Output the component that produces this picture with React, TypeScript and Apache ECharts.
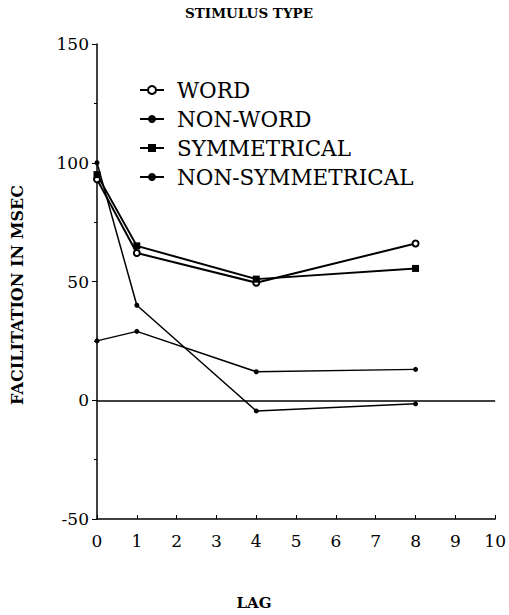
import React, { useEffect, useRef } from "react";
import * as echarts from "echarts";

const lags = [0, 1, 4, 8];
const wordValues = [93, 62, 49.5, 66];
const nonWordValues = [100, 40, -4.5, -1.5];
const symmetricalValues = [95, 65, 51, 55.5];
const nonSymmetricalValues = [25, 29, 12, 13];
const xTicks = [0, 1, 2, 3, 4, 5, 6, 7, 8, 9, 10];
const yTicks = [-50, 0, 50, 100, 150];

const FONT = "DejaVu Serif";

function pairs(vals: number[]) {
  return lags.map((x, i) => [x, vals[i]]);
}

export default function App() {
  const ref = useRef<HTMLDivElement>(null);
  useEffect(() => {
    if (!ref.current) return;
    const chart = echarts.init(ref.current, undefined, { renderer: "svg" });
    const base = {
      type: "line",
      color: "#000",
      showAllSymbol: true,
    };
    chart.setOption({
      animation: false,
      backgroundColor: "#fff",
      title: {
        text: "STIMULUS TYPE",
        left: 244,
        textAlign: "center",
        top: 1,
        textStyle: { fontFamily: FONT, fontWeight: "bold", fontSize: 13.5, color: "#000" },
      },
      legend: {
        orient: "vertical",
        left: 134,
        top: 74,
        itemWidth: 24,
        itemHeight: 10,
        itemGap: 7,
        textStyle: { fontFamily: FONT, fontSize: 21.5, color: "#000", padding: [0, 0, 0, 8] },
        data: ["WORD", "NON-WORD", "SYMMETRICAL", "NON-SYMMETRICAL"],
      },
      grid: { left: 97, right: 11, top: 44, bottom: 96, containLabel: false },
      graphic: [
        {
          type: "text",
          x: 17,
          y: 295,
          rotation: Math.PI / 2,
          style: {
            text: "FACILITATION IN MSEC",
            fontFamily: FONT,
            fontWeight: "bold",
            fontSize: 16,
            fill: "#000",
            textAlign: "center",
            textVerticalAlign: "middle",
          },
        },
        {
          type: "text",
          x: 254,
          y: 603,
          style: {
            text: "LAG",
            fontFamily: FONT,
            fontWeight: "bold",
            fontSize: 15,
            fill: "#000",
            textAlign: "center",
            textVerticalAlign: "middle",
          },
        },
      ],
      xAxis: {
        type: "value",
        min: 0,
        max: 10,
        interval: 1,
        axisLine: { onZero: false, lineStyle: { color: "#000", width: 1.5 } },
        axisTick: { inside: true, length: 4, lineStyle: { color: "#000" } },
        axisLabel: {
          fontFamily: FONT,
          fontSize: 17,
          color: "#000",
          margin: 13,
          formatter: (v: number) => (xTicks.includes(v) ? String(v) : ""),
        },
        splitLine: { show: false },
      },
      yAxis: {
        type: "value",
        min: -50,
        max: 150,
        interval: 50,
        axisLine: { show: true, onZero: false, lineStyle: { color: "#000", width: 1.5 } },
        axisTick: { show: true, length: 5, lineStyle: { color: "#000" } },
        minorTick: { show: true, splitNumber: 2, length: 3, lineStyle: { color: "#000" } },
        axisLabel: {
          fontFamily: FONT,
          fontSize: 17,
          color: "#000",
          margin: 8,
          formatter: (v: number) => (yTicks.includes(v) ? String(v) : ""),
        },
        splitLine: { show: false },
      },
      series: [
        {
          ...base,
          name: "WORD",
          data: pairs(wordValues),
          symbol: "circle",
          symbolSize: 6,
          lineStyle: { color: "#000", width: 2 },
          itemStyle: { color: "#fff", borderColor: "#000", borderWidth: 2 },
          markLine: {
            silent: true,
            symbol: "none",
            label: { show: false },
            lineStyle: { color: "#000", width: 1.5, type: "solid" },
            data: [{ yAxis: 0 }],
          },
        },
        {
          ...base,
          name: "NON-WORD",
          data: pairs(nonWordValues),
          symbol: "circle",
          symbolSize: 5,
          lineStyle: { color: "#000", width: 1.5 },
          itemStyle: { color: "#000" },
        },
        {
          ...base,
          name: "SYMMETRICAL",
          data: pairs(symmetricalValues),
          symbol: "rect",
          symbolSize: 7,
          lineStyle: { color: "#000", width: 2 },
          itemStyle: { color: "#000" },
        },
        {
          ...base,
          name: "NON-SYMMETRICAL",
          data: pairs(nonSymmetricalValues),
          symbol: "circle",
          symbolSize: 5,
          lineStyle: { color: "#000", width: 1.5 },
          itemStyle: { color: "#000" },
        },
      ],
    });
    return () => chart.dispose();
  }, []);
  return <div ref={ref} style={{ width: 509, height: 615, position: "absolute", left: 0, top: 0 }} />;
}
